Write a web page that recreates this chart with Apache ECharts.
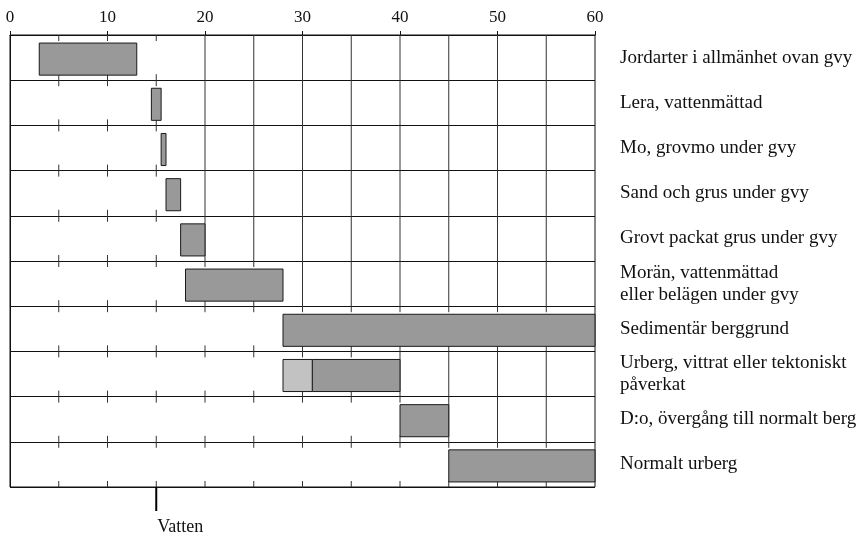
<!DOCTYPE html>
<html>
<head>
<meta charset="utf-8">
<script src="https://cdn.jsdelivr.net/npm/echarts@6/dist/echarts.min.js"></script>
<style>
    html, body { margin: 0; padding: 0; background: #fff; }
    #chart { width: 862px; height: 538px; }
</style>
</head>
<body>
<div id="chart"></div>
<script>
// rows, top to bottom
var categories = [
    'Jordarter i allmänhet ovan gvy',
    'Lera, vattenmättad',
    'Mo, grovmo under gvy',
    'Sand och grus under gvy',
    'Grovt packat grus under gvy',
    'Morän, vattenmättad\neller belägen under gvy',
    'Sedimentär berggrund',
    'Urberg, vittrat eller tektoniskt\npåverkat',
    'D:o, övergång till normalt berg',
    'Normalt urberg'
];
var rangeStart = [3, 14.5, 15.5, 16, 17.5, 18, 28, 31, 40, 45];
var rangeEnd = [13, 15.5, 16, 17.5, 20, 28, 60, 40, 45, 60];
// lighter part of the "Urberg, vittrat" row
var lightRow = [7];
var lightStart = [28];
var lightEnd = [31];
var xTicks = [0, 10, 20, 30, 40, 50, 60];
var waterLevel = 15;
var waterLabel = 'Vatten';

var FONT = '"Liberation Serif", "DejaVu Serif", serif';

var barData = [];
for (let i = 0; i < categories.length; i++) {
    barData.push([i, rangeStart[i], rangeEnd[i]]);
}
var lightData = [];
for (let i = 0; i < lightRow.length; i++) {
    lightData.push([lightRow[i], lightStart[i], lightEnd[i]]);
}
var gridRows = [];
for (let i = 0; i < categories.length; i++) {
    gridRows.push([i, rangeEnd[i]]);
}

function barItem(fill) {
    return function (params, api) {
        var row = api.value(0);
        var p0 = api.coord([api.value(1), row]);
        var p1 = api.coord([api.value(2), row]);
        var h = api.size([0, 1])[1] * 0.71;
        return {
            type: 'rect',
            shape: { x: p0[0], y: p0[1] - h / 2 + 1.5, width: p1[0] - p0[0], height: h },
            style: { fill: fill, stroke: '#1a1a1a', lineWidth: 1 }
        };
    };
}

function gridItem(params, api) {
    var row = api.value(0);
    var end = api.value(1);
    var c = api.coord([0, row]);
    var band = api.size([0, 1])[1];
    var top = c[1] - band / 2;
    var bottom = c[1] + band / 2;
    var children = [];
    for (let v = 5; v < 60; v += 5) {
        var x = api.coord([v, row])[0];
        if (v >= Math.max(20, end)) {
            children.push({ type: 'line', shape: { x1: x, y1: top, x2: x, y2: bottom },
                style: { stroke: '#333', lineWidth: 1 } });
        } else {
            children.push({ type: 'line', shape: { x1: x, y1: top, x2: x, y2: top + 6 },
                style: { stroke: '#333', lineWidth: 1 } });
            children.push({ type: 'line', shape: { x1: x, y1: bottom - 6, x2: x, y2: bottom },
                style: { stroke: '#333', lineWidth: 1 } });
        }
    }
    return { type: 'group', children: children };
}

function waterItem(params, api) {
    var cs = params.coordSys;
    var x = api.coord([api.value(0), 0])[0];
    var y0 = cs.y + cs.height;
    return {
        type: 'group',
        children: [
            { type: 'line', shape: { x1: x, y1: y0, x2: x, y2: y0 + 24 },
              style: { stroke: '#000', lineWidth: 2 } },
            { type: 'text', x: x + 1, y: y0 + 40,
              style: { text: waterLabel, font: '18px ' + FONT, fill: '#111',
                       align: 'left', verticalAlign: 'middle' } }
        ]
    };
}

var chart = echarts.init(document.getElementById('chart'));
var option = {
    backgroundColor: '#fff',
    animation: false,
    grid: {
        left: 10, right: 267, top: 35, bottom: 51,
        show: true, borderColor: '#111', borderWidth: 1, backgroundColor: 'transparent'
    },
    xAxis: {
        type: 'value',
        position: 'top',
        min: 0,
        max: 60,
        interval: 10,
        axisLine: { show: true, lineStyle: { color: '#111' } },
        axisTick: { show: true, length: 4, lineStyle: { color: '#111' } },
        splitLine: { show: false },
        axisLabel: {
            show: true, margin: 9, color: '#111', fontSize: 17, fontFamily: FONT,
            formatter: function (v) { return xTicks.indexOf(v) >= 0 ? String(v) : ''; }
        }
    },
    yAxis: {
        type: 'category',
        position: 'right',
        inverse: true,
        data: categories,
        axisLine: { show: true, lineStyle: { color: '#111' } },
        axisTick: { show: true, length: 4, lineStyle: { color: '#111' } },
        splitLine: { show: true, lineStyle: { color: '#111', width: 1 } },
        axisLabel: {
            margin: 25, color: '#111', fontSize: 19, fontFamily: FONT,
            align: 'left', lineHeight: 22
        }
    },
    series: [
        {
            type: 'custom', name: 'grid', silent: true, z: 1,
            renderItem: gridItem, data: gridRows, clip: false
        },
        {
            type: 'custom', name: 'range', silent: true, z: 3,
            renderItem: barItem('#999999'), data: barData
        },
        {
            type: 'custom', name: 'light', silent: true, z: 4,
            renderItem: barItem('#c2c2c2'), data: lightData
        },
        {
            type: 'custom', name: 'water', silent: true, z: 5, clip: false,
            renderItem: waterItem, data: [[waterLevel]]
        }
    ]
};
chart.setOption(option);
</script>
</body>
</html>
